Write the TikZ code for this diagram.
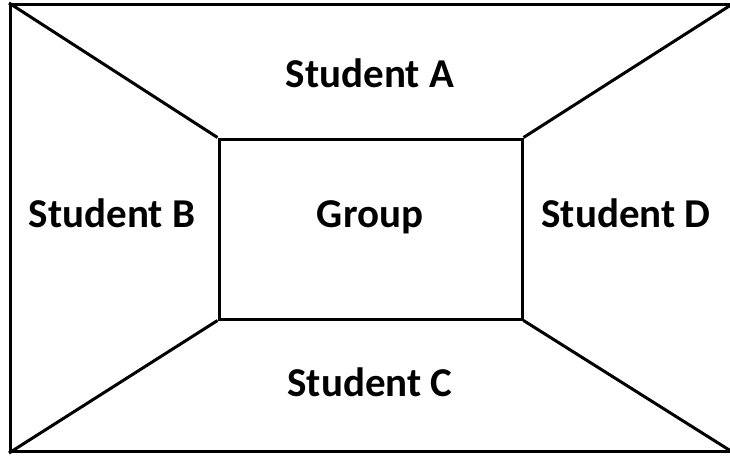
\documentclass[tikz,border=0pt]{standalone}
\usepackage{fontspec}
\setmainfont{Carlito}
\usetikzlibrary{positioning}

\begin{document}
\begin{tikzpicture}[x=1pt,y=-1pt,
    every node/.style={font=\fontsize{41}{45}\selectfont\bfseries},
    lbl/.style={anchor=base},
    box/.style={draw=black,line width=3pt,inner sep=0pt}]

    \useasboundingbox (0,0) rectangle (730,455);

    %outer frame (right side runs off the page) and inner group box
    \node[box,minimum width=722pt,minimum height=447pt] (frame) at (371.5,228) {};
    \node[box,minimum width=303pt,minimum height=180pt] (group) at (370.5,229) {};

    %corner lines
    \draw[line width=3pt] (frame.north west) -- (group.north west);
    \draw[line width=3pt] (frame.north east) -- (group.north east);
    \draw[line width=3pt] (frame.south west) -- (group.south west);
    \draw[line width=3pt] (frame.south east) -- (group.south east);

    %labels
    \node[lbl] (grp) at (370,227) {Group};
    \node[lbl] (studa) at (370,87) {Student A};
    \node[lbl] (studb) at (112,227) {Student B};
    \node[lbl] (studd) at (626,227) {Student D};
    \node[lbl] (studc) at (370,396) {Student C};

\end{tikzpicture}
\end{document}
